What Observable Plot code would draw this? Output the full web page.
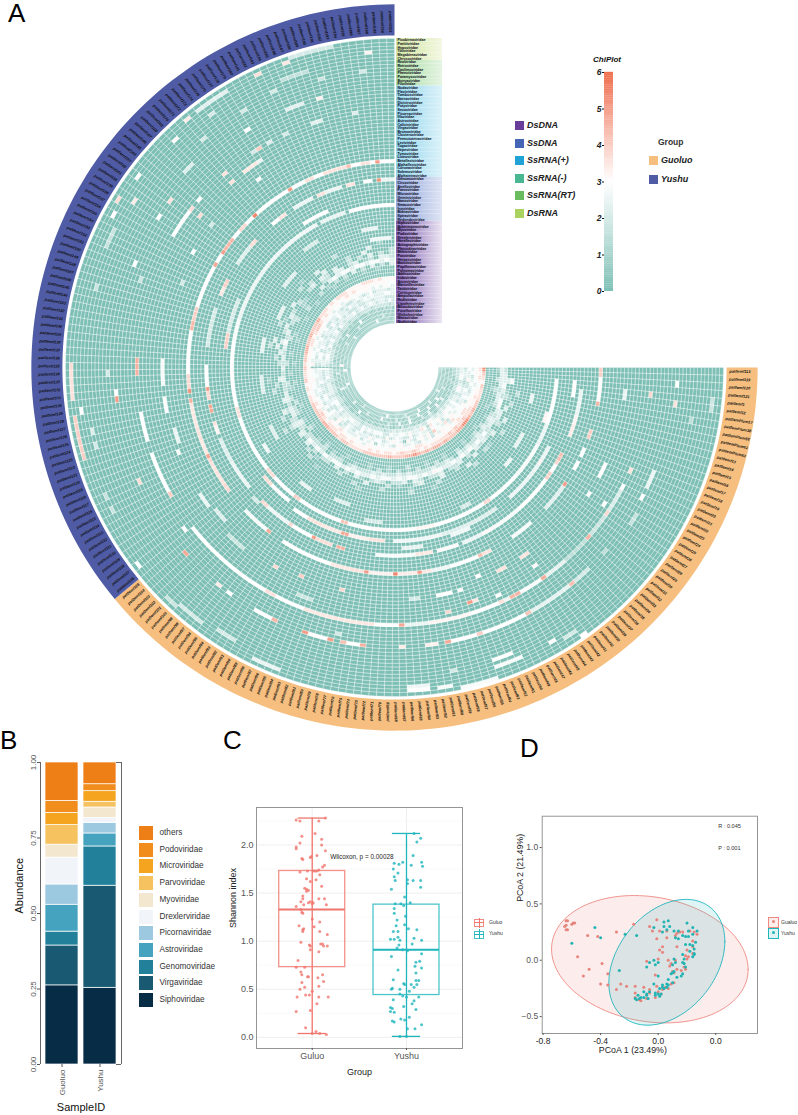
<!DOCTYPE html>
<html>
<head>
<meta charset="utf-8">
<script src="https://cdn.jsdelivr.net/npm/d3@7"></script>
<script src="https://cdn.jsdelivr.net/npm/@observablehq/plot@0.6"></script>
<style>
html,body{margin:0;padding:0;background:#fff}
#fig{position:relative;width:798px;height:1115px;overflow:hidden;font-family:"Liberation Sans",Arial,sans-serif;color:#111}
#fig>div.p{position:absolute}
#fig svg{display:block;overflow:visible}
.t{position:absolute;white-space:nowrap}
.s{position:absolute}
.bi{font-weight:bold;font-style:italic}
.letter{font-size:26px;line-height:26px;color:#000}
</style>
</head>
<body>
<div id="fig"></div>
<script>
/* ---------- A: circular heatmap ---------- */
const typeNames = ["DsDNA","SsDNA","SsRNA(+)","SsRNA(-)","SsRNA(RT)","DsRNA"];
const typeColors = ["#6a3d9a","#4565b5","#1fa2d6","#49b892","#68bc5e","#a9d25e"];
const familyDsRNA = ["Picobirnaviridae","Partitiviridae","Hypoviridae","Totiviridae","Megabirnaviridae","Chrysoviridae"];
const familyRT = ["Reoviridae","Retroviridae","Caulimoviridae","Phenuiviridae","Paramyxoviridae","Bunyaviridae","Filoviridae"];
const familySsPlus = ["Nodaviridae","Flaviviridae","Tombusviridae","Narnaviridae","Dicistroviridae","Potyviridae","Secoviridae","Picornaviridae","Iflaviridae","Astroviridae","Caliciviridae","Virgaviridae","Bromoviridae","Closteroviridae","Permutotetraviridae","Leviviridae","Togaviridae","Hepeviridae","Tymoviridae","Luteoviridae","Betaflexiviridae","Alphaflexiviridae","Coronaviridae","Solemoviridae","Alphatetraviridae"];
const familySsDNA = ["Genomoviridae","Circoviridae","Anelloviridae","Parvoviridae","Microviridae","Geminiviridae","Nanoviridae","Smacoviridae","Inoviridae","Bidnaviridae","Spiraviridae","Redondoviridae"];
const familyDsDNA = ["Siphoviridae","Ackermannviridae","Myoviridae","Podoviridae","Drexlerviridae","Herelleviridae","Autographiviridae","Phycodnaviridae","Mimiviridae","Poxviridae","Herpesviridae","Baculoviridae","Papillomaviridae","Polyomaviridae","Adenoviridae","Iridoviridae","Ascoviridae","Marseilleviridae","Tectiviridae","Corticoviridae","Ampullaviridae","Rudiviridae","Lipothrixviridae","Bicaudaviridae","Fuselloviridae","Globuloviridae","Nimaviridae","Nudiviridae"];
const guoluoCount = 104, sampleCount = 200, ringCount = 78;
const firstSampleIds = ["pat0emf113","pat0emf119","pat0emf120","pat0emf121","pat0emf1","pat0emf12","pat0emPlum17","pat0emPlum38","pat0emPlum58","pat0emPlum61","pat0emPlum63"];
const digitValues = [0,.8,1.5,2.2,2.8,3.2,3.7,4.2,4.7,5.4];
/* dense inner rings: one digit per two samples, ring number then reading */
const denseRings = [
[22,"0000200000020000002000000010002000000001000000010000000200000000100000200002000000100000020000000100"],
[21,"0000002003000012000300000200001000020000200000000200000002000020000000030020000002000300000000030000"],
[20,"0040010300203000030002003000320010200030000200001020000200300002000020300001003000020030000200300002"],
[19,"0030120033202232302032203220230322023201302030220203030320203000300203030230320200230320300202030202"],
[18,"2334324432332434343434334534344343443433434344343434232323323322323232342302200110000220330230120332"],
[17,"3333233202323232232302322322223232232322232022202222202302202012000200002000200100003034344344344343"],
[16,"1020210100102021010200102010201020102010010010102010020101020010010001000100000200020102020302030203"],
[15,"0000100010000100010000100010002000100010000100001000010000100001000100001000010001000010010001001000"],
[12,"9765766677878998877787887878988777877777766667767778877777665657667677887787778666565666555566656455"],
[11,"6565455655666766767666665656766765665656555565665666567656554555555455556656776565545456565555454544"],
[10,"4544344455466565454545544566454545544545534454456545345354433445445534434435454544344345444454343443"],
[9,"3423432342544446354535253423433552343414342433343252342423234333433232343342342233432322343234233323"],
[8,"4335224343344355263447253542350345432443533342342353342334423243334234424332332432433243323434333443"],
[7,"2332123323243434425345233432522343252323232422332432322432322232224332323223233323323222322332333222"],
[6,"3344235423343445335446146333534433422444343423344332434432333324334234432434234143233342342343233242"],
[5,"2222112212232323232344223232222323221222222212222222212221222122222122222112222122212221222212222212"],
[4,"1110010010101112101211010101102010011010010100101001001100010010010100101010010001010010001001001010"],
[3,"0000100000003004000300200004000300020000000000040000000000300000200000000000000300000040000000000000"],
[2,"0000000020000400004000040003000020000040000020000003000000200000000500000000200000002000000000020000"],
[1,"0000000000300000300000400000200000004000000000020000000000040000040000000000000030000000000040000000"]
];
/* ring, first sample, last sample, value */
const arcs32 = [[32,3,14,3],[32,15,20,2.5],[32,21,30,2.8],[32,31,39,3],[32,40,41,3.8],[32,42,50,2.9],[32,51,55,3],[32,56,60,3.2],[32,61,66,3],[32,67,72,3.1],[32,73,78,3],[32,79,80,4.2],[32,81,92,3],[32,93,94,4],[32,95,101,3],[32,102,104,3.7],[32,105,119,3],[32,120,122,3.6],[32,123,139,3],[32,140,145,2.8],[32,146,160,2.5],[32,161,178,2.6],[32,180,186,2.4],[32,188,199,3]];
const arcs35 = [[35,20,35,2.5],[35,40,54,2.2],[35,55,66,2.6],[35,69,72,3.6],[35,73,77,3.3],[35,78,79,4.8],[35,80,84,3.5],[35,85,88,3.6],[35,89,92,3],[34,95,100,3],[34,101,103,3.7],[34,138,141,4],[34,142,150,2],[34,176,182,3]];
const arcs39 = [[39,5,10,2.5],[39,11,12,3.2],[39,13,15,3.4],[39,20,21,4.3],[39,22,24,3],[39,25,26,3.9],[39,27,35,3],[39,36,42,2.8],[39,43,45,3.1],[39,46,50,2.5],[39,52,56,3.1],[39,58,61,3.5],[39,62,66,2.8],[39,67,70,2.8],[39,78,79,4.6],[39,81,84,3.7],[39,85,85,5],[39,86,90,3],[39,91,91,3.8],[39,92,97,2.6],[39,98,99,3.8],[39,104,110,2.5],[39,111,116,2.2],[39,118,119,3.2],[39,120,120,3.6],[39,123,124,4.8],[39,126,127,3.8],[39,128,128,5],[39,129,133,3],[39,138,146,2],[39,150,151,3.5],[39,152,153,4],[39,158,162,2.2],[39,163,164,3.7],[39,170,171,3],[39,172,173,3.6],[39,176,180,2.5],[39,182,183,3.6],[39,184,187,2.5],[39,189,190,3.6],[39,193,194,3],[39,196,196,5.2],[39,197,199,2.5]];
const arcs44 = [[44,0,1,4],[44,2,6,3],[44,7,7,4.5],[44,13,14,4],[44,17,18,3],[44,20,21,3],[44,25,25,5],[44,26,31,2.3],[44,36,40,2.8],[44,46,47,3.6],[44,48,48,4.3],[44,49,54,3],[44,55,58,2.6],[44,59,60,3.5],[44,61,61,5],[44,62,65,3.4],[44,66,66,5.5],[44,67,71,3.3],[44,72,72,5],[44,73,75,3.6],[44,76,79,3.5],[44,80,83,3],[44,84,90,3],[44,94,94,4.7],[44,95,100,2.8],[44,106,107,3.8],[44,108,112,3.6],[44,113,113,3.8],[44,114,114,4.8],[44,115,117,3.5],[44,118,120,3.6],[44,121,125,3.5],[44,126,126,4.6],[44,128,128,5.2],[44,129,131,3.8],[44,132,140,3],[44,141,142,4.5],[44,143,145,4],[44,146,154,3],[44,155,155,4.8],[44,156,157,3],[44,158,158,5],[44,159,161,4.5],[44,162,163,3],[44,164,165,3.8],[44,166,167,3],[44,168,168,5.5],[44,169,176,3],[44,177,177,5],[44,178,180,3],[44,181,182,3.6],[44,183,184,3],[44,185,186,3.6],[44,187,189,3.6],[44,190,190,4.3],[44,191,192,3],[44,193,194,3.6],[44,195,195,3],[44,196,196,5],[44,197,199,3]];
const arcs58 = [[58,21,24,2.1],[58,25,25,3.8],[58,26,29,1.8],[58,30,30,4.5],[58,31,35,1.5],[58,36,39,2.4],[58,40,40,4.7],[58,41,44,2.9],[58,45,46,4.5],[58,47,47,2.6],[58,48,48,3.6],[58,49,53,3],[58,54,60,3.2],[58,61,64,2.5],[58,65,65,4.8],[58,66,69,3],[58,70,72,3.5],[58,73,77,3.5],[58,78,81,3.5],[58,82,86,3],[58,87,88,3.6],[58,89,92,3],[58,93,100,3],[58,101,104,3],[58,111,111,4],[58,112,118,3],[58,122,125,3],[58,132,134,4.6]];
const arcs64 = [[64,34,36,2],[64,37,37,4.3],[64,38,44,2.4],[64,45,45,4.2],[64,46,52,3],[64,53,53,4],[64,54,57,3],[64,58,58,4.7],[64,60,61,3.3],[64,65,65,3.4],[64,71,71,4.6],[64,72,73,3],[64,74,74,4.3],[64,76,76,5],[64,77,79,3],[64,80,80,5],[64,85,85,4.5],[64,86,88,3],[64,93,93,3],[64,95,95,3.4],[64,102,102,4.8],[64,115,115,3.7],[64,128,128,5],[64,129,129,3]];
const scatterA = [[65,2,2,3],[58,4,4,3.8],[65,5,5,3.6],[51,4,5,2.5],[75,4,5,1.8],[70,7,7,1.5],[51,18,20,3],[58,17,17,3.6],[64,16,18,2.5],[64,20,20,3],[58,20,20,3],[51,24,24,3],[56,24,24,3],[35,24,24,3.3],[39,22,22,3.8],[65,23,24,1.7],[64,30,30,1.5],[50,40,41,3.6],[54,40,40,3.1],[50,45,46,3.6],[49,50,50,3],[51,54,54,3.1],[51,56,58,3],[55,53,53,5],[55,52,52,3.5],[56,48,48,3],[56,57,57,3.8],[51,62,63,2],[72,50,52,3],[74,49,52,2.8],[74,44,44,3],[75,41,42,2],[77,40,40,3],[75,62,64,2.6],[76,62,64,3],[72,58,58,2],[77,53,57,2.8],[76,59,60,2.8]];
const scatterB = [[66,132,132,2],[76,129,133,3.6],[74,127,127,3],[76,121,126,4],[72,124,124,2.2],[72,122,122,2],[58,122,125,3],[58,121,121,3],[51,125,127,2.9],[50,119,121,2.5],[51,117,117,2.8],[58,133,133,4.6],[51,130,134,2.8],[51,106,108,2.5],[50,102,104,2.2],[60,105,105,3],[76,105,105,3],[51,89,89,3.8],[50,84,84,4],[50,76,76,3.8],[55,81,83,1.8],[62,75,75,2],[76,82,85,2.5],[74,89,91,2],[75,94,97,2],[76,98,99,1.8],[74,113,113,1.8],[74,115,115,1.7],[40,100,101,2],[52,96,99,1.8],[28,92,95,2.4],[27,80,84,2.2],[30,70,74,2],[25,110,114,2.2],[29,108,110,2.6],[24,125,130,2.2],[37,60,64,2.4],[36,48,52,2.6],[30,45,47,2],[27,20,24,2.4],[28,28,30,2.5],[26,8,10,2.5],[37,3,6,3],[31,12,14,3.2]];
const scatterC = [[64,149,149,3],[72,144,144,1.8],[61,147,147,1.8],[50,149,149,2],[51,155,155,3],[58,156,160,3],[64,157,157,3],[64,160,160,3.6],[58,161,161,3.7],[55,161,161,3.7],[58,163,163,3],[51,161,161,2],[58,169,169,3.6],[55,169,169,3.6],[55,172,174,3.5],[51,173,173,2.8],[58,176,176,4],[58,178,178,2.2],[58,175,175,2],[55,175,175,2.5],[64,176,176,3],[58,181,181,2],[69,177,177,2],[64,183,185,2.3],[64,188,188,3.3],[69,189,189,1.8],[70,182,182,2],[58,193,193,2.2],[58,186,187,2.3],[74,196,196,3.2],[69,195,195,2],[69,170,170,2],[74,167,167,3.1],[73,173,173,2],[76,170,170,3.4],[76,156,156,3.7],[72,157,157,3.4],[75,154,154,3],[75,160,160,3],[76,181,181,3.6],[76,185,185,3.5],[76,133,133,3.7],[77,186,191,2],[76,172,176,2.3],[72,184,187,1.6],[73,150,152,1.7],[66,165,166,2.2],[24,138,142,2.4],[22,150,154,2.3],[25,160,165,2.2],[28,172,176,2],[26,190,194,2.4],[23,192,198,2.6]];
const darkGaps = [[5,133,133,0],[6,133,133,0],[7,133,133,0],[8,133,133,0],[9,133,133,0],[10,133,133,0]];
const heatColors = ["#7dbfb5","#ffffff","#ef6c4d"];

/* ---------- B: stacked bars ---------- */
const barFamilies = ["Siphoviridae","Virgaviridae","Genomoviridae","Astroviridae","Picornaviridae","Drexlerviridae","Myoviridae","Parvoviridae","Microviridae","Podoviridae","others"];
const barColors = ["#072c45","#195a72","#22809b","#45a3bf","#9cc8e0","#f1f5f9","#f3e8cf","#f5c25f","#f4a41e","#f08d1d","#ee7f17"];
const guoluoShare = [.262,.132,.046,.089,.067,.089,.043,.065,.040,.040,.127];
const yushuShare = [.254,.338,.130,.043,.035,.016,.035,.019,.035,.023,.072];

/* ---------- C: Shannon index ---------- */
const guluoJitter = [-.17,-.13,.07,.14,.03,-.11,-.13,-.17,-.17,.10,.10,.14,.05,-.11,-.10,-.02,-.01,.11,.13,.07,.01,.03,-.05,-.13,.05,.08,.04,-.06,-.02,.10,-.08,-.06,-.04,-.06,-.10,-.10,-.12,-.02,0,.01,.07,.13,.15,-.17,-.12,-.09,-.04,-.11,-.10,0,.08,-.14,.02,-.09,-.10,-.10,.08,.16,-.12,-.03,-.02,-.02,.07,.09,.11,.12,.16,-.15,-.17,-.08,-.12,-.11,-.05,-.04,.06,.11,-.11,.12,-.08,-.13,.07,0,-.07,-.03,-.16,.07,.17,.05,-.17,-.02,-.07,.04,.08,.15,0];
const guluoShannon = [2.26,2.25,2.25,2.28,2.12,2.09,2.02,1.98,1.96,2.06,2.00,1.94,1.89,1.86,1.85,1.87,1.88,1.77,1.79,1.74,1.73,1.73,1.73,1.72,1.73,1.69,1.64,1.65,1.62,1.57,1.55,1.54,1.53,1.52,1.47,1.44,1.41,1.41,1.39,1.40,1.44,1.44,1.38,1.36,1.33,1.38,1.40,1.30,1.29,1.23,1.20,1.16,1.15,1.13,1.12,1.10,1.10,1.07,.99,.96,.95,.91,.89,.97,.97,.95,.95,.80,.73,.73,.68,.65,.63,.63,.62,.65,.57,.58,.52,.50,.53,.48,.44,.44,.42,.42,.42,.35,.27,.28,.10,.06,.04,.03,.04];
const yushuJitter = [.08,.15,.11,.07,-.13,-.08,-.04,.05,.16,.17,-.14,-.09,-.13,-.12,.01,.07,.15,.01,.15,-.16,-.02,-.12,-.06,.04,-.03,-.13,-.13,-.01,-.10,-.02,-.11,.02,.11,-.14,-.09,-.17,-.13,-.09,-.07,.08,.16,.06,-.08,-.10,-.04,.01,.16,-.16,.14,.10,.09,.16,-.09,.10,-.14,.10,.13,-.03,.05,-.02,.11,.08,-.15,-.16,-.07,.03,-.07,-.04,0,.13,-.14,.08,.06,-.03,-.17,-.15,.10,-.17,-.13,.03,-.06,-.02,-.15,-.13,.16,.01,.09,-.07,0];
const yushuShannon = [2.12,2.07,2.03,1.89,1.81,1.80,1.82,1.79,1.82,1.78,1.75,1.71,1.67,1.63,1.64,1.63,1.63,1.60,1.56,1.54,1.46,1.39,1.39,1.40,1.37,1.34,1.29,1.26,1.22,1.17,1.16,1.13,1.12,1.10,1.10,1.02,1.02,1.04,1.01,1.03,1.01,.97,.96,.93,.91,.90,.87,.84,.79,.78,.74,.72,.70,.67,.60,.59,.59,.56,.55,.55,.55,.52,.51,.50,.50,.48,.45,.43,.42,.42,.39,.38,.35,.32,.31,.30,.29,.27,.26,.21,.19,.18,.17,.16,.13,.09,.09,.01,.01];
const boxGroups = ["Guluo","Yushu"];
const boxLow = [.04,.01], boxQ1 = [.73,.44], boxMedian = [1.33,.91], boxQ3 = [1.73,1.38], boxHigh = [2.28,2.12];
const boxColors = ["#f0756d","#1fb5bd"];

/* ---------- D: PCoA ---------- */
const pcoaGuoluoX = [-.64,-.63,-.64,-.65,-.63,-.64,-.60,-.59,-.58,-.49,-.42,-.29,-.56,-.48,-.39,-.52,-.35,-.40,-.35,-.26,-.29,-.22,-.16,-.16,-.16,-.10,-.06,-.17,-.06,-.01,-.04,.01,-.01,.06,.06,.01,.03,.03,-.08,0,-.02,-.01,0,.03,.10,.08,.07,.12,.13,.15,.17,.19,.20,.21,.24,.25,.24,.27,.22,.13,.12,.09,.11,.19,.13,.16,.18,.07,.05,.09,.11,-.13,-.12,-.08,-.02,.02,-.06,.24,.20];
const pcoaGuoluoY = [.35,.35,.31,.30,.27,.27,.32,.33,.33,.22,.21,.25,.03,-.08,-.03,-.14,-.12,-.21,-.22,-.21,-.26,-.23,-.23,-.33,-.29,-.24,-.26,.32,.30,.36,.26,.26,.19,.26,.20,.09,.12,.07,-.01,.01,-.13,-.23,-.28,-.26,-.10,-.05,0,.22,.24,.25,.25,.04,.01,.03,.12,.25,.17,.23,.26,.12,0,-.03,-.11,-.08,-.08,-.09,-.06,-.25,-.24,-.21,-.20,-.35,-.36,-.34,-.33,-.30,-.29,.06,.09];
const pcoaYushuX = [-.44,-.40,-.60,-.23,-.15,-.27,-.03,.04,.04,.07,.08,.06,.03,.11,.14,.20,.24,.21,.27,.24,.19,.21,.12,.14,.17,.26,.22,.19,.24,.25,.22,.25,.24,.25,.17,.18,.18,.19,.17,.11,.12,.10,.10,.11,.13,.16,.17,.09,.07,.10,.07,.06,.06,.03,.04,.02,.01,0,-.02,-.03,0,-.03,0,-.02,-.06,-.08,-.10,-.08,-.12,-.16,-.15,-.07,-.06,-.08,-.02,.01,.03,-.14,-.10,-.13];
const pcoaYushuY = [.29,.20,.15,.23,.22,-.09,.29,.30,.34,.35,.30,.27,.25,.26,.26,.33,.29,.26,.26,.23,.21,.21,.20,.19,.22,.16,.14,.14,.13,.10,.08,.06,.03,.05,.05,.01,-.03,-.06,-.02,.01,-.02,-.04,-.11,-.10,-.15,-.14,-.12,-.12,-.17,-.20,-.22,-.21,-.24,-.22,-.25,-.30,-.32,-.30,-.31,-.21,-.14,0,-.02,-.04,-.02,-.06,-.33,-.31,-.33,-.34,-.35,-.34,-.28,-.30,-.29,-.25,-.24,-.31,-.28,-.34];
/* ellipse: centre x, centre y, half width, half height, correlation */
const ellipseGuoluo = [-.058,.009,.683,.565,-.16];
const ellipseYushu = [.06,-.018,.403,.558,.33];
const pcoaColors = ["#ee8a83","#1fb5bd"];
const pcoaDots = ["#e6847d","#22b3b3"];
const pcoaXTicks = [-.8,-.4,0,.4];
const pcoaXLabels = ["-0.8","-0.4","0.0","0.0"];

/* ---------- helpers ---------- */
const fig = document.getElementById("fig");
const FONT = '"Liberation Sans", Arial, sans-serif';
function place(node, left, top){
  const d = document.createElement("div"); d.className = "p";
  d.style.left = left+"px"; d.style.top = top+"px"; d.appendChild(node); fig.appendChild(d);
}
function label(text, left, top, size, css=""){
  const d = document.createElement("div"); d.className = "t";
  d.style.cssText = `left:${left}px;top:${top}px;font-size:${size}px;line-height:${size}px;${css}`;
  d.textContent = text; fig.appendChild(d); return d;
}
function swatch(left, top, w, h, color, css=""){
  const d = document.createElement("div"); d.className = "s";
  d.style.cssText = `left:${left}px;top:${top}px;width:${w}px;height:${h}px;background:${color};${css}`;
  fig.appendChild(d); return d;
}

/* ---------- build panel A ---------- */
const heat = d3.range(ringCount).map(() => new Float32Array(sampleCount));
for (const [ring, str] of denseRings)
  for (let c = 0; c < str.length; c++) {
    const v = digitValues[+str[c]];
    heat[ring][2*c] = v; if (2*c+1 < sampleCount) heat[ring][2*c+1] = v;
  }
for (const list of [arcs32,arcs35,arcs39,arcs44,arcs58,arcs64,scatterA,scatterB,scatterC,darkGaps])
  for (const [ring,s0,s1,v] of list)
    for (let s = s0; s <= s1; s++) heat[ring][s] = v;

const STEP = 270/sampleCount, RAD0 = 44, DR = 285/ringCount;
const polar = d3.geoTransform({point(s, i){
  const t = s*STEP*Math.PI/180, r = RAD0 + i*DR;
  this.stream.point(394 + r*Math.cos(t), 367 + r*Math.sin(t));
}});
const cells = [];
for (let i = 0; i < ringCount; i++) for (let s = 0; s < sampleCount; s++)
  cells.push({type:"Feature",properties:{v:heat[i][s]},
    geometry:{type:"Polygon",coordinates:[[[s,i],[s,i+1],[s+1,i+1],[s+1,i],[s,i]]]}});
function band(s0, s1, i0, i1){
  const top = d3.range(s0, s1+1).map(s => [s,i1]);
  const bottom = d3.range(s1, s0-1, -1).map(s => [s,i0]);
  return {type:"Polygon",coordinates:[[...top,...bottom,top[0]]]};
}
const bandIn = 78.85, bandOut = 87.35;
const sampleIds = d3.range(sampleCount).map(k => firstSampleIds[k] ?? ("pat0emf"+(k+2)));
const samples = sampleIds.map((id,k)=>({id,s:k+.5,t:(k+.5)*STEP}));
const colorScale = {type:"linear",domain:[0,3,6],range:heatColors};
place(Plot.plot({
  width:798,height:740,margin:0,projection:polar,color:colorScale,
  style:{fontFamily:FONT,background:"transparent"},
  marks:[
    Plot.geo(cells,{fill:d=>d.properties.v,stroke:"#fff",strokeWidth:.4,strokeOpacity:.75}),
    Plot.geo([band(0,guoluoCount,bandIn,bandOut)],{fill:"#f6bf7f"}),
    Plot.geo([band(guoluoCount,sampleCount,bandIn,bandOut)],{fill:"#4f5ba5"}),
    Plot.text(samples.filter(d=>d.t<=90||d.t>=270),{x:"s",y:79.6,text:"id",rotate:d=>d.t,textAnchor:"start",fontSize:3.9,fontWeight:"bold",fontStyle:"italic",fill:"#111"}),
    Plot.text(samples.filter(d=>d.t>90&&d.t<270),{x:"s",y:79.6,text:"id",rotate:d=>d.t+180,textAnchor:"end",fontSize:3.9,fontWeight:"bold",fontStyle:"italic",fill:"#111"})
  ]
}),0,0);

/* family label block */
const familyRows = [
  ...familyDsRNA.map(n=>({n,k:"DsRNA"})),
  ...familyRT.map(n=>({n,k:"RT"})),
  ...familySsPlus.map(n=>({n,k:"Plus"})),
  ...familySsDNA.map(n=>({n,k:"SsDNA"})),
  ...familyDsDNA.map(n=>({n,k:"DsDNA"}))
];
const gradStops = {DsRNA:["#cfe29a","#f3f8e3"],RT:["#a9dba0","#e4f4e2"],Plus:["#8fd4ec","#dcf2f9"],SsDNA:["#8ea3da","#dfe5f4"],DsDNA:["#7d5bb0","#ebe5f2"]};
const gradDefs = () => {
  const defs = d3.create("svg:defs");
  for (const k in gradStops) {
    const g = defs.append("linearGradient").attr("id","fam"+k);
    g.append("stop").attr("offset","0").attr("stop-color",gradStops[k][0]);
    g.append("stop").attr("offset","1").attr("stop-color",gradStops[k][1]);
  }
  return defs.node();
};
place(Plot.plot({
  width:46,height:289,marginTop:2,marginBottom:2,marginLeft:0,marginRight:0,
  x:{domain:[0,1],axis:null},
  y:{type:"band",domain:familyRows.map(d=>d.n),padding:0,axis:null},
  color:{type:"identity"},
  style:{fontFamily:FONT,background:"transparent"},
  marks:[
    gradDefs,
    Plot.barX(familyRows,{x1:0,x2:1,y:"n",fill:d=>`url(#fam${d.k})`}),
    Plot.text(familyRows,{x:0,y:"n",text:"n",textAnchor:"start",dx:1,fontSize:3.6,fontWeight:"bold",fill:"#0c0c1c"})
  ]
}),396,36);

/* colour bar */
const barSteps = d3.range(0,6,.05);
place(Plot.plot({
  width:40,height:235,marginTop:7,marginBottom:9,marginLeft:24,marginRight:7,
  y:{domain:[0,6],axis:null},color:colorScale,
  style:{fontFamily:FONT,background:"transparent"},
  marks:[
    Plot.rect(barSteps,{y1:d=>d,y2:d=>d+.055,fill:d=>d+.025}),
    Plot.axisY({ticks:[0,1,2,3,4,5,6],tickFormat:d=>String(d),tickSize:2,tickPadding:1,fontSize:8.5,fontWeight:"bold",fontStyle:"italic",fill:"#222",label:null})
  ]
}),580,65);
label("ChiPlot",593,56,8,"font-weight:bold;font-style:italic");

/* legends of A */
typeNames.forEach((n,k)=>{
  swatch(515,121+k*17.5,9,9,typeColors[k]);
  label(n,527,121+k*17.5,9,"font-weight:bold;font-style:italic;color:#222");
});
label("Group",658,138,8.5,"font-weight:bold;color:#333");
swatch(649,156,9,9,"#f6bf7f"); label("Guoluo",661,156,9,"font-weight:bold;font-style:italic;color:#222");
swatch(649,175,9,9,"#4f5ba5"); label("Yushu",661,175,9,"font-weight:bold;font-style:italic;color:#222");

/* ---------- panel B ---------- */
const stackRows = barFamilies.flatMap((f,k)=>[
  {sample:"Guoluo",family:f,share:guoluoShare[k],k},
  {sample:"Yushu",family:f,share:yushuShare[k],k}
]);
place(Plot.plot({
  width:122,height:365,marginTop:12,marginBottom:51,marginLeft:40,marginRight:1,
  x:{type:"band",domain:["Guoluo","Yushu"],padding:.13,axis:null},
  y:{domain:[0,1],axis:null},
  color:{domain:barFamilies,range:barColors},
  style:{fontFamily:FONT,background:"transparent"},
  marks:[
    Plot.barY(stackRows,{x:"sample",y:"share",fill:"family",order:d=>d.k,stroke:"#fff",strokeWidth:.7}),
    Plot.ruleX([0],{frameAnchor:"left",stroke:"#666",strokeWidth:.7,y1:0,y2:1,dx:0}),
    Plot.ruleY([0,1],{stroke:"#666",strokeWidth:.6,x1:"Guoluo",x2:"Guoluo",dx:-16}),
    Plot.axisY({ticks:[0,.25,.5,.75,1],tickFormat:d3.format(".2f"),tickRotate:-90,tickSize:3,tickPadding:2,fontSize:8,fill:"#555",label:null,stroke:"#555"}),
    Plot.axisX({tickRotate:-90,tickSize:3,tickPadding:2,fontSize:8,fill:"#555",label:null,stroke:"#555"}),
    Plot.text(["SampleID"],{frameAnchor:"bottom",dy:46,text:d=>d,fontSize:11,fill:"#111"}),
    Plot.text(["Abundance"],{frameAnchor:"left",dx:-21,rotate:-90,text:d=>d,fontSize:11,fill:"#111"})
  ]
}),0,750);
swatch(40,762,.8,302,"#666"); swatch(121,762,.8,302,"#666");
swatch(116,762,5,.7,"#666"); swatch(116,1064,5,.7,"#666");
[...barFamilies].reverse().forEach((f,k)=>{
  const c = barColors[barFamilies.length-1-k];
  swatch(139,826+k*16.7,14,14,c);
  label(f,159.5,829+k*16.7,8.2,"color:#333");
});

/* ---------- panel C ---------- */
const boxes = boxGroups.map((g,k)=>({g,pos:k+1,low:boxLow[k],q1:boxQ1[k],med:boxMedian[k],q3:boxQ3[k],high:boxHigh[k],c:boxColors[k]}));
const dotsC = [
  ...guluoJitter.map((j,k)=>({x:1+j,y:guluoShannon[k],c:boxColors[0]})),
  ...yushuJitter.map((j,k)=>({x:2+j,y:yushuShannon[k],c:boxColors[1]}))
];
place(Plot.plot({
  width:260,height:300,marginLeft:41,marginRight:13,marginTop:17,marginBottom:42,
  x:{type:"linear",domain:[.409,2.594],axis:null},
  y:{domain:[-.116,2.39],axis:null},
  color:{type:"identity"},
  style:{fontFamily:FONT,background:"transparent"},
  marks:[
    Plot.gridY([.25,.75,1.25,1.75,2.25],{stroke:"#f2f2f2",strokeOpacity:1,strokeWidth:.5}),
    Plot.gridY([0,.5,1,1.5,2],{stroke:"#ebebeb",strokeOpacity:1,strokeWidth:.8}),
    Plot.gridX([1,2],{stroke:"#ebebeb",strokeOpacity:1,strokeWidth:.8}),
    Plot.frame({stroke:"#8a8a8a",strokeWidth:.9}),
    Plot.dot(dotsC,{x:"x",y:"y",r:1.5,fill:"c",fillOpacity:.8}),
    Plot.ruleX(boxes,{x:"pos",y1:"low",y2:"high",stroke:"c",strokeWidth:1.3}),
    Plot.ruleY(boxes,{y:"low",x1:d=>d.pos-.15,x2:d=>d.pos+.15,stroke:"c",strokeWidth:1.3}),
    Plot.ruleY(boxes,{y:"high",x1:d=>d.pos-.15,x2:d=>d.pos+.15,stroke:"c",strokeWidth:1.3}),
    Plot.rect(boxes,{x1:d=>d.pos-.35,x2:d=>d.pos+.35,y1:"q1",y2:"q3",stroke:"c",strokeWidth:1.3,strokeOpacity:.8,fill:"none"}),
    Plot.ruleY(boxes,{y:"med",x1:d=>d.pos-.35,x2:d=>d.pos+.35,stroke:"c",strokeWidth:2}),
    Plot.text(["Wilcoxon, p = 0.00028"],{x:1.19,y:1.88,text:d=>d,textAnchor:"start",fontSize:6.4,fill:"#222"}),
    Plot.axisY({ticks:[0,.5,1,1.5,2],tickFormat:d3.format(".1f"),tickSize:0,tickPadding:3,fontSize:9,fill:"#555",label:null}),
    Plot.axisX({ticks:[1,2],tickFormat:d=>boxGroups[d-1],tickSize:2,tickPadding:2,fontSize:9,fill:"#555",stroke:"#555",label:null}),
    Plot.text(["Group"],{frameAnchor:"bottom",dy:26,text:d=>d,fontSize:9,fill:"#222"}),
    Plot.text(["Shannon index"],{frameAnchor:"left",dx:-23,rotate:-90,text:d=>d,fontSize:9,fill:"#222"})
  ]
}),215,790);
boxGroups.forEach((g,k)=>{
  const top = 919+k*11.7, c = boxColors[k];
  swatch(474,top,8,6,"transparent",`border:1px solid ${c};opacity:.85`);
  swatch(478.8,top-1.5,.8,10,c);
  swatch(474,top+3,10,.9,c);
  label(g,489,top+.5,5,"color:#333");
});

/* ---------- panel D ---------- */
const angles = d3.range(0,361,3);
const ellipsePath = ([cx,cy,hx,hy,rho]) => angles.map(a => {
  const t = a*Math.PI/180;
  return {x:cx+hx*Math.cos(t),y:cy+hy*(rho*Math.cos(t)+Math.sqrt(1-rho*rho)*Math.sin(t))};
});
place(Plot.plot({
  width:298,height:270,marginLeft:41.7,marginRight:41,marginTop:15.7,marginBottom:37,
  x:{domain:[-.806,.69],axis:null},
  y:{domain:[-.65,1.278],axis:null},
  style:{fontFamily:FONT,background:"transparent"},
  marks:[
    Plot.line(ellipsePath(ellipseGuoluo),{x:"x",y:"y",fill:pcoaColors[0],fillOpacity:.16,stroke:pcoaColors[0],strokeWidth:.9,curve:"linear-closed"}),
    Plot.line(ellipsePath(ellipseYushu),{x:"x",y:"y",fill:pcoaColors[1],fillOpacity:.15,stroke:pcoaColors[1],strokeWidth:.9,curve:"linear-closed"}),
    Plot.dot(pcoaGuoluoX,{x:d=>d,y:(d,k)=>pcoaGuoluoY[k],r:1.5,fill:pcoaDots[0]}),
    Plot.dot(pcoaYushuX,{x:d=>d,y:(d,k)=>pcoaYushuY[k],r:1.5,fill:pcoaDots[1]}),
    Plot.frame({stroke:"#8a8a8a",strokeWidth:.9}),
    Plot.text(["R : 0.045"],{x:.417,y:1.19,text:d=>d,textAnchor:"start",fontSize:5.6,fill:"#333"}),
    Plot.text(["P : 0.001"],{x:.417,y:.997,text:d=>d,textAnchor:"start",fontSize:5.6,fill:"#333"}),
    Plot.axisY({ticks:[-.5,0,.5,1],tickFormat:d3.format(".1f"),tickSize:2,tickPadding:2,fontSize:8.5,fill:"#555",stroke:"#555",label:null}),
    Plot.axisX({ticks:pcoaXTicks,tickFormat:(d,k)=>pcoaXLabels[k],tickSize:2,tickPadding:2,fontSize:8.5,fill:"#222",stroke:"#555",label:null}),
    Plot.text(["PCoA 1 (23.49%)"],{frameAnchor:"bottom",dy:19,dx:-17,text:d=>d,fontSize:8.8,fill:"#222"}),
    Plot.text(["PCoA 2 (21.49%)"],{frameAnchor:"left",dx:-22,rotate:-90,dy:-23,text:d=>d,fontSize:8.8,fill:"#222"})
  ]
}),500,800);
["Gualuo","Yushu"].forEach((g,k)=>{
  const top = 917+k*11, c = pcoaColors[k];
  swatch(768,top,9,9,"rgba(240,140,130,.16)",`border:.8px solid ${c};${k?"background:rgba(31,181,189,.15)":""}`);
  const dot = swatch(771.5,top+3.2,3,3,pcoaDots[k],"border-radius:50%");
  label(g,781,top+2.5,5,"color:#333");
});

/* panel letters */
label("A",8,-1+1,26,"").className += " letter";
label("B",0,727,26,"").className += " letter";
label("C",223,727,26,"").className += " letter";
label("D",520,735,26,"").className += " letter";
</script>
</body>
</html>
